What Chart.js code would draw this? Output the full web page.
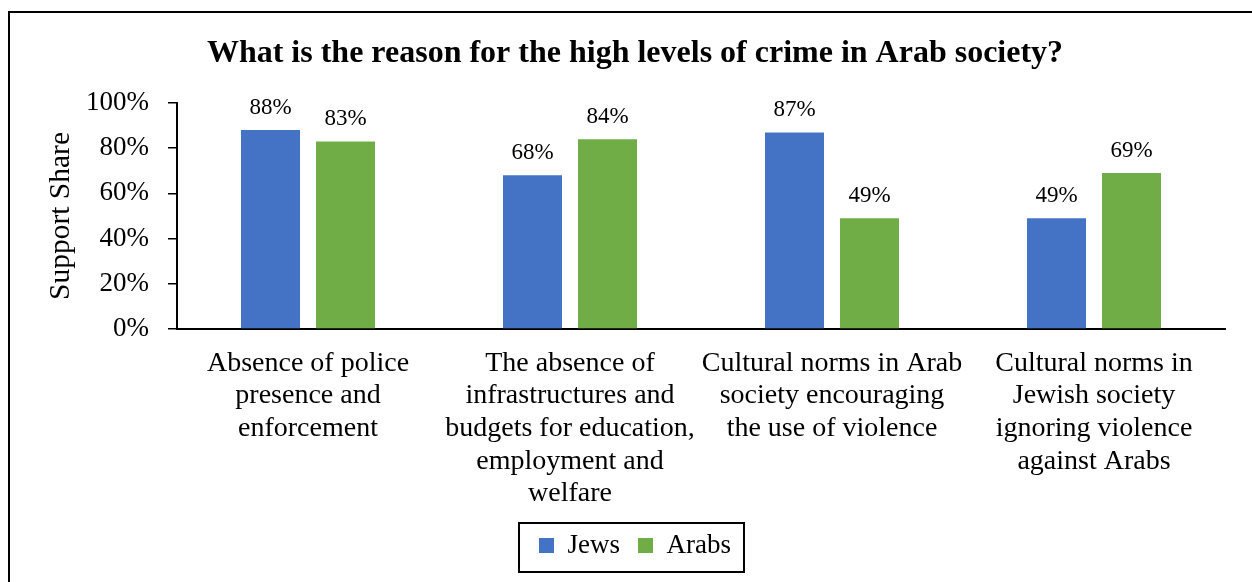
<!DOCTYPE html>
<html>
<head>
<meta charset="utf-8">
<script src="https://cdn.jsdelivr.net/npm/chart.js@4/dist/chart.umd.min.js"></script>
<style>
  html, body { margin: 0; padding: 0; background: #ffffff; }
  #wrap { width: 1252px; height: 582px; position: relative; }
</style>
</head>
<body>
<div id="wrap"><canvas id="c" width="1252" height="582"></canvas></div>
<script>
const titleText = "What is the reason for the high levels of crime in Arab society?";
const categories = [
  ["Absence of police", "presence and", "enforcement"],
  ["The absence of", "infrastructures and", "budgets for education,", "employment and", "welfare"],
  ["Cultural norms in Arab", "society encouraging", "the use of violence"],
  ["Cultural norms in", "Jewish society", "ignoring violence", "against Arabs"]
];
const seriesNames = ["Jews", "Arabs"];
const jewsValues = [88, 68, 87, 49];
const arabsValues = [83, 84, 49, 69];
const yTicks = [0, 20, 40, 60, 80, 100];
const yAxisTitle = "Support Share";

const FONT = "'Liberation Serif', 'Times New Roman', Times, serif";
const BLUE = "#4472C4";
const GREEN = "#70AD47";

const framePlugin = {
  id: "frame",
  beforeDraw(chart) {
    const ctx = chart.ctx;
    ctx.save();
    ctx.fillStyle = "#000";
    ctx.fillRect(8, 11, 2, 582 - 11);
    ctx.fillRect(8, 11, 1252 - 8, 2);
    ctx.restore();
  }
};

const dataLabelPlugin = {
  id: "dataLabels",
  afterDatasetsDraw(chart) {
    const ctx = chart.ctx;
    ctx.save();
    ctx.font = "23px " + FONT;
    ctx.fillStyle = "#000";
    ctx.textAlign = "center";
    ctx.textBaseline = "alphabetic";
    chart.data.datasets.forEach((ds, di) => {
      const meta = chart.getDatasetMeta(di);
      meta.data.forEach((bar, i) => {
        ctx.fillText(ds.data[i] + "%", bar.x, bar.y - 16);
      });
    });
    ctx.restore();
  }
};

const legendBoxPlugin = {
  id: "legendBox",
  afterDraw(chart) {
    const lg = chart.legend;
    if (!lg || !lg.legendHitBoxes || !lg.legendHitBoxes.length) return;
    const hb = lg.legendHitBoxes;
    let l = Infinity, r = -Infinity, t = Infinity, b = -Infinity;
    hb.forEach(h => {
      l = Math.min(l, h.left); r = Math.max(r, h.left + h.width);
      t = Math.min(t, h.top); b = Math.max(b, h.top + h.height);
    });
    const ctx = chart.ctx;
    ctx.save();
    ctx.strokeStyle = "#000";
    ctx.lineWidth = 2;
    ctx.strokeRect(l - 20, t - 9, (r + 13) - (l - 20), (b + 13) - (t - 9));
    ctx.restore();
  }
};

new Chart(document.getElementById("c"), {
  type: "bar",
  data: {
    labels: categories,
    datasets: [
      { label: seriesNames[0], data: jewsValues, backgroundColor: BLUE, categoryPercentage: 0.5725, barPercentage: 0.787 },
      { label: seriesNames[1], data: arabsValues, backgroundColor: GREEN, categoryPercentage: 0.5725, barPercentage: 0.787 }
    ]
  },
  options: {
    responsive: false,
    devicePixelRatio: 1,
    animation: false,
    layout: { padding: { left: 45, right: 27, top: 0, bottom: 13 } },
    plugins: {
      title: {
        display: true,
        text: titleText,
        color: "#000",
        font: { family: FONT, size: 32, weight: "bold", lineHeight: 1.2 },
        padding: { top: 35, bottom: 29.6 }
      },
      legend: {
        display: true,
        position: "bottom",
        labels: {
          color: "#000",
          font: { family: FONT, size: 27 },
          boxWidth: 15,
          boxHeight: 15,
          padding: 18
        }
      },
      tooltip: { enabled: false }
    },
    scales: {
      x: {
        grid: { display: false, drawTicks: false },
        border: { display: true, color: "#000", width: 2 },
        ticks: {
          color: "#000",
          font: { family: FONT, size: 28, lineHeight: 1.165 },
          padding: 18,
          maxRotation: 0,
          autoSkip: false
        },
        afterFit(scale) { scale.height = 185; }
      },
      y: {
        min: 0,
        max: 100,
        afterBuildTicks(scale) { scale.ticks = yTicks.map(v => ({ value: v })); },
        grid: { display: true, drawOnChartArea: false, drawTicks: true, tickLength: 9, color: "#000", lineWidth: 1.5 },
        border: { display: true, color: "#000", width: 2 },
        ticks: {
          color: "#000",
          font: { family: FONT, size: 27 },
          padding: 19,
          callback: v => v + "%"
        },
        title: {
          display: true,
          text: yAxisTitle,
          color: "#000",
          font: { family: FONT, size: 29.5, lineHeight: 1 },
          padding: { top: 1, bottom: 0 }
        },
        afterFit(scale) { scale.width = 132; }
      }
    }
  },
  plugins: [framePlugin, dataLabelPlugin, legendBoxPlugin]
});
</script>
</body>
</html>
